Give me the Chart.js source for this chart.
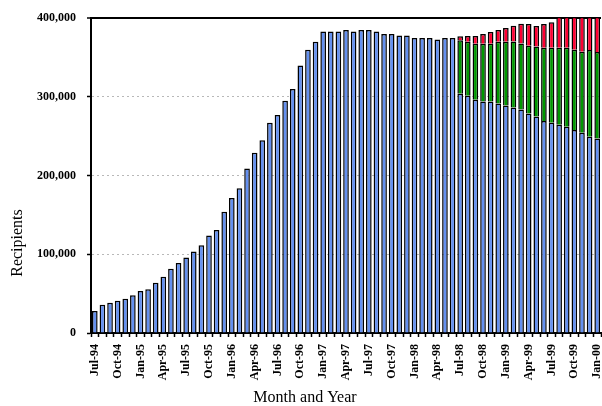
<!DOCTYPE html>
<html>
<head>
<meta charset="utf-8">
<script src="https://cdn.jsdelivr.net/npm/chart.js@4.4.1/dist/chart.umd.min.js"></script>
<style>
  body { margin: 0; background: #fff; }
  canvas { display: block; }
</style>
</head>
<body>
<canvas id="chart" width="602" height="406"></canvas>
<script>
// months Jul-94 .. Jan-00
const months = [
    'Jul-94', 'Aug-94', 'Sep-94', 'Oct-94', 'Nov-94', 'Dec-94',
    'Jan-95', 'Feb-95', 'Mar-95', 'Apr-95', 'May-95', 'Jun-95', 'Jul-95', 'Aug-95', 'Sep-95', 'Oct-95', 'Nov-95', 'Dec-95',
    'Jan-96', 'Feb-96', 'Mar-96', 'Apr-96', 'May-96', 'Jun-96', 'Jul-96', 'Aug-96', 'Sep-96', 'Oct-96', 'Nov-96', 'Dec-96',
    'Jan-97', 'Feb-97', 'Mar-97', 'Apr-97', 'May-97', 'Jun-97', 'Jul-97', 'Aug-97', 'Sep-97', 'Oct-97', 'Nov-97', 'Dec-97',
    'Jan-98', 'Feb-98', 'Mar-98', 'Apr-98', 'May-98', 'Jun-98', 'Jul-98', 'Aug-98', 'Sep-98', 'Oct-98', 'Nov-98', 'Dec-98',
    'Jan-99', 'Feb-99', 'Mar-99', 'Apr-99', 'May-99', 'Jun-99', 'Jul-99', 'Aug-99', 'Sep-99', 'Oct-99', 'Nov-99', 'Dec-99',
    'Jan-00'
];

// blue part
const baseRecipients = [
    28000, 36000, 38500, 41000, 43500, 48000,
    53500, 55500, 64000, 71500, 81500, 89000, 96000, 103500, 111500, 124000, 131000, 154000,
    171500, 184000, 209000, 229000, 245000, 267000, 277000, 295000, 310000, 340000, 360000, 370000,
    383000, 383000, 383000, 385000, 383000, 385000, 385000, 383000, 380000, 380000, 378000, 378000,
    375000, 375000, 375000, 373000, 375000, 375000, 304000, 301500, 296500, 294000, 294000, 291500,
    289000, 286500, 284000, 279000, 275000, 269500, 267000, 264500, 262000, 258000, 254500, 249500,
    247000
];

// green part, starts Jul-98
const greenRecipients = [
    68000, 68500, 71000, 73500, 73500, 78500,
    81000, 84000, 84000, 86000, 89000, 93000, 95500, 98000, 100500, 102000, 103000, 110000,
    110000
];

// red part, starts Jul-98
const redRecipients = [
    5000, 7500, 10000, 12500, 15000, 15000,
    17500, 20000, 25000, 27500, 26000, 30000, 32500, 40000, 42000, 44000, 46000, 44000,
    46000
];

const yTicks = [0, 100000, 200000, 300000, 400000];

/*----------------------------------------DATA------------------------------------------------*/
const startLate = months.length - greenRecipients.length;
const pad = new Array(startLate).fill(null);

const font = '"Liberation Serif", "Times New Roman", serif';

/*---------------------------------------TITLES-----------------------------------------------*/
const axisTitles = {
    id: 'axisTitles',
    afterDraw(chart) {
        const ctx = chart.ctx;
        ctx.save();
        ctx.fillStyle = '#000';
        ctx.font = '16px ' + font;
        ctx.textAlign = 'center';
        ctx.textBaseline = 'middle';
        ctx.fillText('Month and Year', 305, 398);
        ctx.translate(18, 243);
        ctx.rotate(-Math.PI / 2);
        ctx.fillText('Recipients', 0, 0);
        ctx.restore();
    }
};

/*----------------------------------------CHART-----------------------------------------------*/
const barStyle = {
    borderColor: '#000',
    borderWidth: 1.5,
    barPercentage: 0.74,
    categoryPercentage: 1,
    stack: 'all',
    clip: 0
};

new Chart(document.getElementById('chart'), {
    type: 'bar',
    data: {
        labels: months,
        datasets: [
            Object.assign({ data: baseRecipients, backgroundColor: '#6490F0' }, barStyle),
            Object.assign({ data: pad.concat(greenRecipients), backgroundColor: '#009900' }, barStyle),
            Object.assign({ data: pad.concat(redRecipients), backgroundColor: '#FF0033' }, barStyle)
        ]
    },
    options: {
        responsive: false,
        animation: false,
        layout: { padding: { top: 15, right: 1, left: 0, bottom: 0 } },
        plugins: { legend: { display: false }, tooltip: { enabled: false } },
        scales: {
            x: {
                stacked: true,
                afterFit: s => { s.height = 73; s.paddingLeft = 0; s.paddingRight = 0; },
                grid: { display: true, drawOnChartArea: false, drawTicks: true, tickLength: 4, tickColor: '#000', tickWidth: 1.5, offset: true },
                border: { color: '#000', width: 2 },
                ticks: {
                    autoSkip: false,
                    maxRotation: 90,
                    minRotation: 90,
                    padding: 7,
                    color: '#000',
                    font: { family: font, size: 12, weight: 'bold' },
                    callback: (v, i) => i % 3 === 0 ? months[i] : ''
                }
            },
            y: {
                stacked: true,
                min: yTicks[0],
                max: yTicks[yTicks.length - 1],
                afterFit: s => { s.width = 91; },
                afterBuildTicks: s => { s.ticks = yTicks.map(v => ({ value: v })); },
                grid: {
                    color: c => c.tick.value === 400000 ? '#000' : (c.tick.value === 0 ? 'rgba(0,0,0,0)' : '#b8b8b8'),
                    lineWidth: c => c.tick.value === 400000 ? 2 : 1,
                    tickColor: '#000',
                    tickLength: 4,
                    tickWidth: 1.5
                },
                border: {
                    color: '#000',
                    width: 2,
                    dash: c => (c.tick && c.tick.value === 400000) ? [] : [2, 3]
                },
                ticks: {
                    padding: 11,
                    color: '#000',
                    font: { family: font, size: 12, weight: 'bold' },
                    callback: v => v.toLocaleString('en-US')
                }
            }
        }
    },
    plugins: [axisTitles]
});
</script>
</body>
</html>
